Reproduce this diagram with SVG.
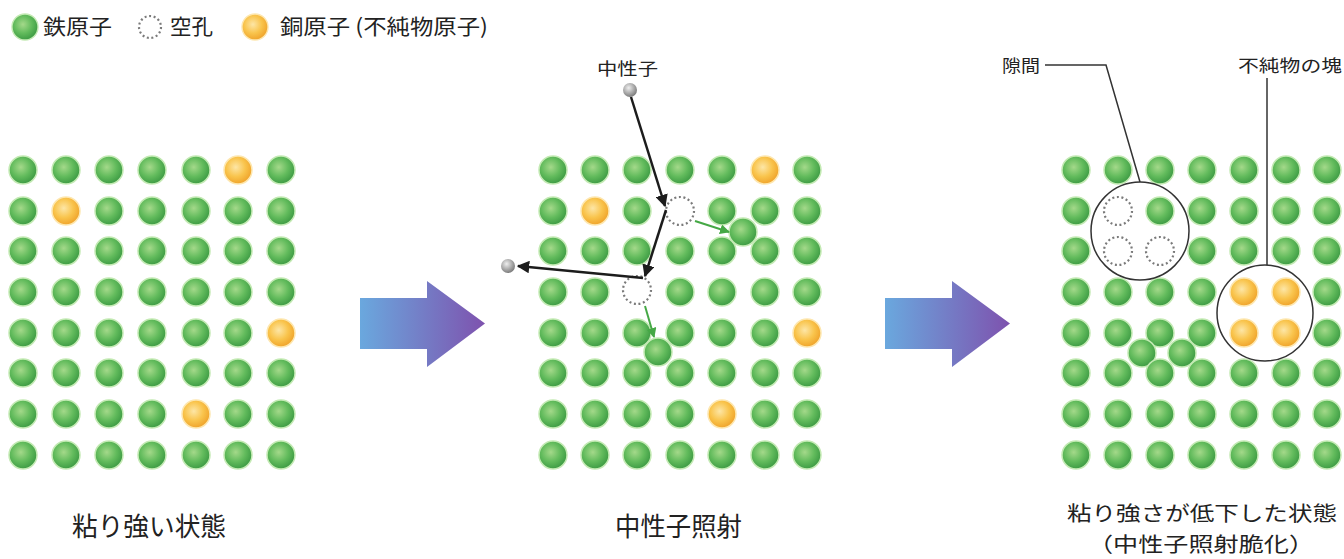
<svg xmlns="http://www.w3.org/2000/svg" xmlns:xlink="http://www.w3.org/1999/xlink" width="1344" height="559" viewBox="0 0 1344 559">
  <style>
    .lbl { font-family: "Noto Sans CJK JP", "Noto Sans", sans-serif; fill: #222; }
    .vac { fill: none; stroke: #7a7a7a; stroke-width: 2.2; stroke-dasharray: 2 2.6; }
    .ring { fill: none; stroke: #333; stroke-width: 1.5; }
    .lead { fill: none; stroke: #333; stroke-width: 1.5; }
    .path { fill: none; stroke: #1c1c1c; stroke-width: 2.5; }
    .move { fill: none; stroke: #45a845; stroke-width: 2; }
  </style>
  <defs>
    <radialGradient id="gFe" cx="0.42" cy="0.4" r="0.62">
      <stop offset="0" stop-color="#a4d98a"/>
      <stop offset="0.55" stop-color="#62bb5c"/>
      <stop offset="1" stop-color="#3c9a43"/>
    </radialGradient>
    <radialGradient id="gCu" cx="0.42" cy="0.4" r="0.62">
      <stop offset="0" stop-color="#fde6a6"/>
      <stop offset="0.55" stop-color="#f9c44c"/>
      <stop offset="1" stop-color="#efa22a"/>
    </radialGradient>
    <radialGradient id="gN" cx="0.4" cy="0.35" r="0.65">
      <stop offset="0" stop-color="#eeeeee"/>
      <stop offset="1" stop-color="#7d7d7d"/>
    </radialGradient>
    <linearGradient id="gArrow" x1="0" y1="0" x2="1" y2="0">
      <stop offset="0" stop-color="#6aa8de"/>
      <stop offset="1" stop-color="#7e52ae"/>
    </linearGradient>
    <circle id="fe" r="14" fill="url(#gFe)" stroke="#c4eab4" stroke-width="1.5"/>
    <circle id="cu" r="14" fill="url(#gCu)" stroke="#fde7b0" stroke-width="1.5"/>
    <circle id="vc" r="14" class="vac"/>
    <marker id="ahB" viewBox="0 0 10 10" refX="9" refY="5" markerWidth="5" markerHeight="5" orient="auto" markerUnits="strokeWidth">
      <path d="M0,0 L10,5 L0,10 z" fill="#1c1c1c"/>
    </marker>
    <marker id="ahG" viewBox="0 0 10 10" refX="9" refY="5" markerWidth="5" markerHeight="5" orient="auto" markerUnits="strokeWidth">
      <path d="M0,0 L10,5 L0,10 z" fill="#45a845"/>
    </marker>
  </defs>

  <rect width="1344" height="559" fill="#ffffff"/>

  <!-- legend -->
  <g id="legend">
    <use href="#fe" x="25" y="27" transform="translate(25 27) scale(0.93) translate(-25 -27)"/>
    <text class="lbl" x="43" y="34" font-size="21" textLength="69" lengthAdjust="spacingAndGlyphs">鉄原子</text>
    <circle cx="150" cy="27" r="11" class="vac"/>
    <text class="lbl" x="170" y="34" font-size="21" textLength="43" lengthAdjust="spacingAndGlyphs">空孔</text>
    <use href="#cu" x="255" y="27" transform="translate(255 27) scale(0.93) translate(-255 -27)"/>
    <text class="lbl" x="280" y="34" font-size="21" textLength="208" lengthAdjust="spacingAndGlyphs">銅原子 (不純物原子)</text>
  </g>

  <!-- panel 1: tough lattice -->
  <g id="lattice-tough">
    <g>
      <use href="#fe" x="23" y="170"/><use href="#fe" x="66" y="170"/><use href="#fe" x="109" y="170"/><use href="#fe" x="152" y="170"/><use href="#fe" x="196" y="170"/><use href="#cu" x="238" y="170"/><use href="#fe" x="281" y="170"/>
      <use href="#fe" x="23" y="211"/><use href="#cu" x="66" y="211"/><use href="#fe" x="109" y="211"/><use href="#fe" x="152" y="211"/><use href="#fe" x="196" y="211"/><use href="#fe" x="238" y="211"/><use href="#fe" x="281" y="211"/>
      <use href="#fe" x="23" y="251"/><use href="#fe" x="66" y="251"/><use href="#fe" x="109" y="251"/><use href="#fe" x="152" y="251"/><use href="#fe" x="196" y="251"/><use href="#fe" x="238" y="251"/><use href="#fe" x="281" y="251"/>
      <use href="#fe" x="23" y="292"/><use href="#fe" x="66" y="292"/><use href="#fe" x="109" y="292"/><use href="#fe" x="152" y="292"/><use href="#fe" x="196" y="292"/><use href="#fe" x="238" y="292"/><use href="#fe" x="281" y="292"/>
      <use href="#fe" x="23" y="333"/><use href="#fe" x="66" y="333"/><use href="#fe" x="109" y="333"/><use href="#fe" x="152" y="333"/><use href="#fe" x="196" y="333"/><use href="#fe" x="238" y="333"/><use href="#cu" x="281" y="333"/>
      <use href="#fe" x="23" y="373"/><use href="#fe" x="66" y="373"/><use href="#fe" x="109" y="373"/><use href="#fe" x="152" y="373"/><use href="#fe" x="196" y="373"/><use href="#fe" x="238" y="373"/><use href="#fe" x="281" y="373"/>
      <use href="#fe" x="23" y="414"/><use href="#fe" x="66" y="414"/><use href="#fe" x="109" y="414"/><use href="#fe" x="152" y="414"/><use href="#cu" x="196" y="414"/><use href="#fe" x="238" y="414"/><use href="#fe" x="281" y="414"/>
      <use href="#fe" x="23" y="455"/><use href="#fe" x="66" y="455"/><use href="#fe" x="109" y="455"/><use href="#fe" x="152" y="455"/><use href="#fe" x="196" y="455"/><use href="#fe" x="238" y="455"/><use href="#fe" x="281" y="455"/>
    </g>
    <text class="lbl" x="72" y="536" font-size="26" textLength="154" lengthAdjust="spacingAndGlyphs">粘り強い状態</text>
  </g>

  <!-- panel 2: neutron irradiation -->
  <g id="lattice-irradiated">
    <g>
      <use href="#fe" x="553" y="170"/><use href="#fe" x="595" y="170"/><use href="#fe" x="637" y="170"/><use href="#fe" x="680" y="170"/><use href="#fe" x="722" y="170"/><use href="#cu" x="765" y="170"/><use href="#fe" x="807" y="170"/>
      <use href="#fe" x="553" y="211"/><use href="#cu" x="595" y="211"/><use href="#fe" x="637" y="211"/><use href="#vc" x="680" y="211"/><use href="#fe" x="722" y="211"/><use href="#fe" x="765" y="211"/><use href="#fe" x="807" y="211"/>
      <use href="#fe" x="553" y="251"/><use href="#fe" x="595" y="251"/><use href="#fe" x="637" y="251"/><use href="#fe" x="680" y="251"/><use href="#fe" x="722" y="251"/><use href="#fe" x="765" y="251"/><use href="#fe" x="807" y="251"/>
      <use href="#fe" x="553" y="292"/><use href="#fe" x="595" y="292"/><use href="#vc" x="637" y="290"/><use href="#fe" x="680" y="292"/><use href="#fe" x="722" y="292"/><use href="#fe" x="765" y="292"/><use href="#fe" x="807" y="292"/>
      <use href="#fe" x="553" y="333"/><use href="#fe" x="595" y="333"/><use href="#fe" x="637" y="333"/><use href="#fe" x="680" y="333"/><use href="#fe" x="722" y="333"/><use href="#fe" x="765" y="333"/><use href="#cu" x="807" y="333"/>
      <use href="#fe" x="553" y="373"/><use href="#fe" x="595" y="373"/><use href="#fe" x="637" y="373"/><use href="#fe" x="680" y="373"/><use href="#fe" x="722" y="373"/><use href="#fe" x="765" y="373"/><use href="#fe" x="807" y="373"/>
      <use href="#fe" x="553" y="414"/><use href="#fe" x="595" y="414"/><use href="#fe" x="637" y="414"/><use href="#fe" x="680" y="414"/><use href="#cu" x="722" y="414"/><use href="#fe" x="765" y="414"/><use href="#fe" x="807" y="414"/>
      <use href="#fe" x="553" y="455"/><use href="#fe" x="595" y="455"/><use href="#fe" x="637" y="455"/><use href="#fe" x="680" y="455"/><use href="#fe" x="722" y="455"/><use href="#fe" x="765" y="455"/><use href="#fe" x="807" y="455"/>
      <!-- knocked-out iron atoms -->
      <use href="#fe" x="743" y="232"/>
      <use href="#fe" x="658" y="352"/>
    </g>
    <circle cx="630" cy="90" r="7" fill="url(#gN)"/>
    <circle cx="508" cy="266" r="7" fill="url(#gN)"/>
    <text class="lbl" x="597" y="75" font-size="17" textLength="61" lengthAdjust="spacingAndGlyphs">中性子</text>
    <text class="lbl" x="615" y="536" font-size="26" textLength="127" lengthAdjust="spacingAndGlyphs">中性子照射</text>
  </g>

  <!-- panel 3: embrittled lattice -->
  <g id="lattice-embrittled">
    <g>
      <use href="#fe" x="1076" y="170"/><use href="#fe" x="1118" y="170"/><use href="#fe" x="1160" y="170"/><use href="#fe" x="1202" y="170"/><use href="#fe" x="1244" y="170"/><use href="#fe" x="1286" y="170"/><use href="#fe" x="1327" y="170"/>
      <use href="#fe" x="1076" y="211"/><use href="#vc" x="1118" y="211"/><use href="#fe" x="1160" y="211"/><use href="#fe" x="1202" y="211"/><use href="#fe" x="1244" y="211"/><use href="#fe" x="1286" y="211"/><use href="#fe" x="1327" y="211"/>
      <use href="#fe" x="1076" y="251"/><use href="#vc" x="1118" y="251"/><use href="#vc" x="1160" y="251"/><use href="#fe" x="1202" y="251"/><use href="#fe" x="1244" y="251"/><use href="#fe" x="1286" y="251"/><use href="#fe" x="1327" y="251"/>
      <use href="#fe" x="1076" y="292"/><use href="#fe" x="1118" y="292"/><use href="#fe" x="1160" y="292"/><use href="#fe" x="1202" y="292"/><use href="#cu" x="1244" y="292"/><use href="#cu" x="1286" y="292"/><use href="#fe" x="1327" y="292"/>
      <use href="#fe" x="1076" y="333"/><use href="#fe" x="1118" y="333"/><use href="#fe" x="1160" y="333"/><use href="#fe" x="1202" y="333"/><use href="#cu" x="1244" y="333"/><use href="#cu" x="1286" y="333"/><use href="#fe" x="1327" y="333"/>
      <!-- interstitial iron atoms -->
      <use href="#fe" x="1142" y="353"/>
      <use href="#fe" x="1182" y="353"/>
      <use href="#fe" x="1076" y="373"/><use href="#fe" x="1118" y="373"/><use href="#fe" x="1160" y="373"/><use href="#fe" x="1202" y="373"/><use href="#fe" x="1244" y="373"/><use href="#fe" x="1286" y="373"/><use href="#fe" x="1327" y="373"/>
      <use href="#fe" x="1076" y="414"/><use href="#fe" x="1118" y="414"/><use href="#fe" x="1160" y="414"/><use href="#fe" x="1202" y="414"/><use href="#fe" x="1244" y="414"/><use href="#fe" x="1286" y="414"/><use href="#fe" x="1327" y="414"/>
      <use href="#fe" x="1076" y="455"/><use href="#fe" x="1118" y="455"/><use href="#fe" x="1160" y="455"/><use href="#fe" x="1202" y="455"/><use href="#fe" x="1244" y="455"/><use href="#fe" x="1286" y="455"/><use href="#fe" x="1327" y="455"/>
    </g>
    <circle class="ring" cx="1140" cy="231" r="49"/>
    <circle class="ring" cx="1265" cy="313" r="48"/>
    <text class="lbl" x="1002" y="72" font-size="17" textLength="38" lengthAdjust="spacingAndGlyphs">隙間</text>
    <text class="lbl" x="1238" y="72" font-size="17" textLength="104" lengthAdjust="spacingAndGlyphs">不純物の塊</text>
    <text class="lbl" x="1067" y="521" font-size="20.5" textLength="270" lengthAdjust="spacingAndGlyphs">粘り強さが低下した状態</text>
    <text class="lbl" x="1088" y="552" font-size="20.5" textLength="226" lengthAdjust="spacingAndGlyphs">（中性子照射脆化）</text>
  </g>

  <!-- block arrows between stages -->
  <g id="step-arrow-1">
    <polygon points="360,298 427,298 427,281 485,323.5 427,367 427,349 360,349" fill="url(#gArrow)"/>
  </g>
  <g id="step-arrow-2">
    <polygon points="885,298 952,298 952,281 1010,323.5 952,367 952,349 885,349" fill="url(#gArrow)"/>
  </g>

  <!-- connectors: neutron track, atom displacements, leader lines -->
  <g id="connectors">
    <line class="path" x1="631" y1="97" x2="665" y2="206" marker-end="url(#ahB)"/>
    <line class="path" x1="666" y1="210" x2="645" y2="276" marker-end="url(#ahB)"/>
    <line class="path" x1="643" y1="278" x2="518" y2="266" marker-end="url(#ahB)"/>
    <line class="move" x1="695" y1="221" x2="729" y2="232" marker-end="url(#ahG)"/>
    <line class="move" x1="645" y1="306" x2="654" y2="337" marker-end="url(#ahG)"/>
    <polyline class="lead" points="1045,65 1106,65 1140,182"/>
    <line class="lead" x1="1267" y1="78" x2="1267" y2="265"/>
  </g>
</svg>
